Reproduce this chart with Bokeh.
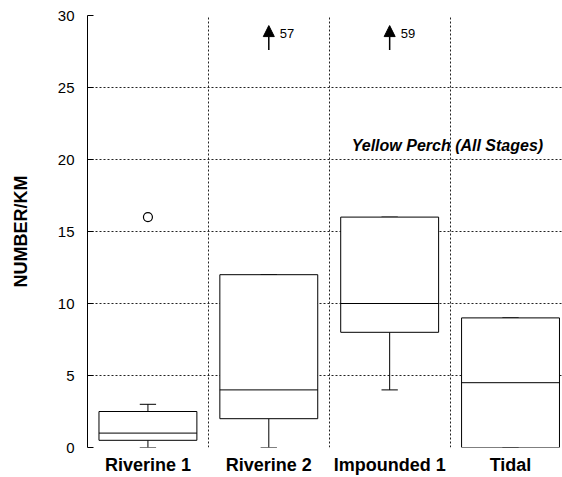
from bokeh.plotting import figure
from bokeh.models import (ColumnDataSource, FixedTicker, Label, Arrow, NormalHead, Range1d)
from bokeh.core.properties import value
from bokeh.embed import file_html
from bokeh.resources import INLINE

# ---- data ----
categories = ["Riverine 1", "Riverine 2", "Impounded 1", "Tidal"]
q1 = [0.5, 2, 8, 0]
median = [1, 4, 10, 4.5]
q3 = [2.5, 12, 16, 9]
whisker_low = [0, 0, 4, 0]
whisker_high = [3, 12, 16, 9]
outlier_cats = ["Riverine 1"]
outlier_values = [16]
offscale_cats = ["Riverine 2", "Impounded 1"]
offscale_values = [57, 59]
y_ticks = [0, 5, 10, 15, 20, 25, 30]
title_text = "Yellow Perch (All Stages)"

FONT = "Liberation Sans"
BOX_W = 0.81
CAP_W = 0.135

xpos = [i + 1 for i in range(len(categories))]
pos_of = {c: i + 1 for i, c in enumerate(categories)}

p = figure(width=562, height=477, output_backend="svg", toolbar_location=None,
           x_range=Range1d(0.5, 4.43), y_range=Range1d(0, 30),
           min_border_left=87, min_border_right=0, min_border_top=15,
           min_border_bottom=30)
p.outline_line_color = None
p.background_fill_color = "white"

# grid
p.xgrid.ticker = FixedTicker(ticks=[1.5, 2.5, 3.5])
for g in (p.xgrid, p.ygrid):
    g.grid_line_color = "#222222"
    g.grid_line_dash = "2 2"
    g.grid_line_width = 1

# y axis
p.yaxis.ticker = FixedTicker(ticks=y_ticks)
p.yaxis.axis_label = "NUMBER/KM"
p.yaxis.axis_label_text_font = FONT
p.yaxis.axis_label_text_font_size = "18px"
p.yaxis.axis_label_text_font_style = "bold"
p.yaxis.axis_label_text_color = "black"
p.yaxis.axis_label_standoff = 24
p.yaxis.major_label_text_font = FONT
p.yaxis.major_label_text_font_size = "15px"
p.yaxis.major_label_text_color = "black"
p.yaxis.major_label_standoff = 13
p.yaxis.major_tick_in = 6
p.yaxis.major_tick_out = 0
p.yaxis.minor_tick_line_color = None
p.yaxis.axis_line_color = "black"
p.yaxis.major_tick_line_color = "black"

# x axis
p.xaxis.ticker = FixedTicker(ticks=xpos)
p.xaxis.major_label_overrides = {x: c for x, c in zip(xpos, categories)}
p.xaxis.major_label_text_font = FONT
p.xaxis.major_label_text_font_size = "18px"
p.xaxis.major_label_text_font_style = "bold"
p.xaxis.major_label_text_color = "black"
p.xaxis.major_label_standoff = 1
p.xaxis.major_tick_line_color = None
p.xaxis.minor_tick_line_color = None
p.xaxis.axis_line_color = None

src = ColumnDataSource(dict(
    x=xpos, q1=q1, med=median, q3=q3, lo=whisker_low, hi=whisker_high,
    xl=[x - BOX_W / 2 for x in xpos], xr=[x + BOX_W / 2 for x in xpos],
    cl=[x - CAP_W / 2 for x in xpos], cr=[x + CAP_W / 2 for x in xpos],
))

# whisker stems
p.segment(x0="x", y0="q3", x1="x", y1="hi", source=src, line_color="black", line_width=1)
p.segment(x0="x", y0="lo", x1="x", y1="q1", source=src, line_color="black", line_width=1)
# caps
p.segment(x0="cl", y0="hi", x1="cr", y1="hi", source=src, line_color="black", line_width=1)
p.segment(x0="cl", y0="lo", x1="cr", y1="lo", source=src, line_color="black", line_width=1)
# boxes
p.vbar(x="x", width=BOX_W, bottom="q1", top="q3", source=src,
       fill_color="white", line_color="black", line_width=1)
# medians
p.segment(x0="xl", y0="med", x1="xr", y1="med", source=src, line_color="black", line_width=1)

# outliers
p.scatter(x=[pos_of[c] for c in outlier_cats], y=outlier_values, marker="circle",
          size=9, fill_color="white", line_color="black", line_width=1.2)

# off-scale arrows
asrc = ColumnDataSource(dict(
    x=[pos_of[c] for c in offscale_cats],
    y0=[27.6] * len(offscale_cats),
    y1=[29.3] * len(offscale_cats),
    ty=[28.75] * len(offscale_cats),
    txt=[str(v) for v in offscale_values],
))
p.add_layout(Arrow(end=NormalHead(size=11, fill_color="black", line_color="black"),
                   x_start="x", y_start="y0", x_end="x", y_end="y1",
                   line_color="black", line_width=1.5, source=asrc))
p.text(x="x", y="ty", text="txt", source=asrc, x_offset=11,
       text_font=value(FONT), text_font_size="13px", text_baseline="middle",
       text_align="left", text_color="black")

# annotation
p.add_layout(Label(x=4.27, y=20.95, text=title_text, text_align="right",
                   text_baseline="middle", text_font=FONT, text_font_size="16px",
                   text_font_style="bold italic", text_color="black"))

open("out.html", "w").write(file_html(p, INLINE))
